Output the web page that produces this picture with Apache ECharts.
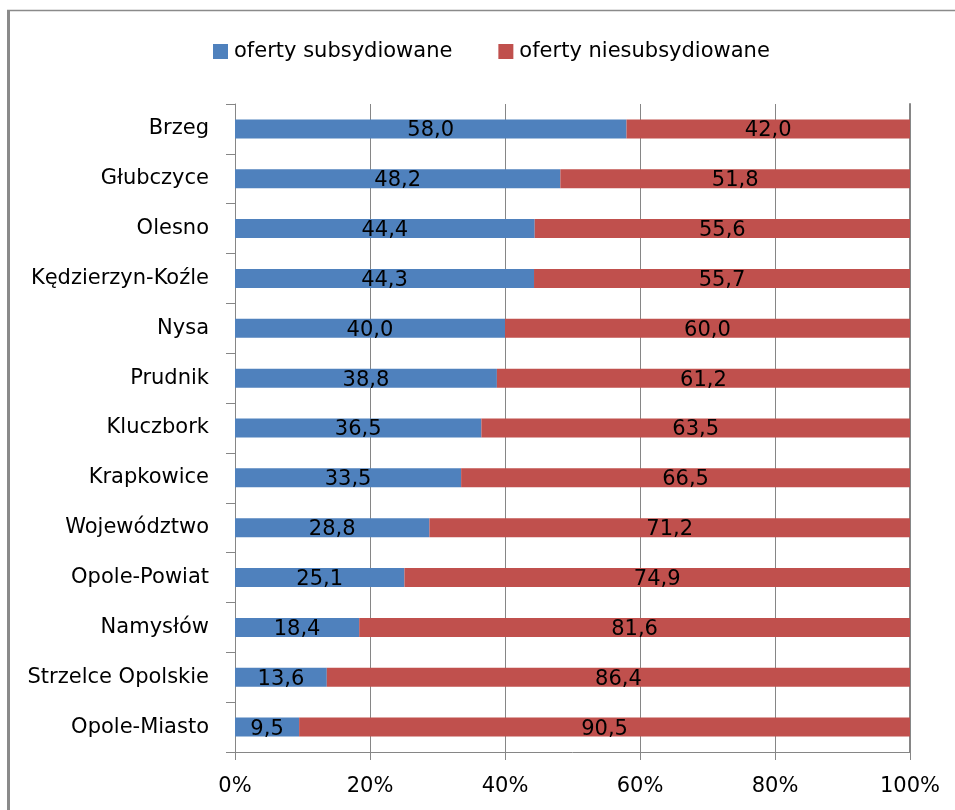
<!DOCTYPE html>
<html>
<head>
<meta charset="utf-8">
<script src="https://cdn.jsdelivr.net/npm/echarts@6/dist/echarts.min.js"></script>
<style>
html,body{margin:0;padding:0;background:#fff;}
#chart{width:955px;height:810px;}
</style>
</head>
<body>
<div id="chart"></div>
<script>
const categories = ["Brzeg","Głubczyce","Olesno","Kędzierzyn-Koźle","Nysa","Prudnik","Kluczbork","Krapkowice","Województwo","Opole-Powiat","Namysłów","Strzelce Opolskie","Opole-Miasto"];
const subsidized = [58.0,48.2,44.4,44.3,40.0,38.8,36.5,33.5,28.8,25.1,18.4,13.6,9.5];
const unsubsidized = [42.0,51.8,55.6,55.7,60.0,61.2,63.5,66.5,71.2,74.9,81.6,86.4,90.5];
const xTicks = [0,20,40,60,80,100];
const seriesNames = ["oferty subsydiowane","oferty niesubsydiowane"];

const FONT = "DejaVu Sans";
const chart = echarts.init(document.getElementById('chart'), null, {renderer:'canvas'});
const fmt = p => p.value.toFixed(1).replace('.', ',');
const lbl = {show:true, position:'inside', formatter:fmt, color:'#000', fontFamily:FONT, fontSize:21, offset:[0,2]};

chart.setOption({
  animation:false,
  backgroundColor:'#fff',
  textStyle:{fontFamily:FONT},
  graphic:[
    {type:'line', shape:{x1:8.5,y1:10,x2:8.5,y2:810}, style:{stroke:'#8a8a8a', lineWidth:3}},
    {type:'line', shape:{x1:7,y1:10.5,x2:955,y2:10.5}, style:{stroke:'#8a8a8a', lineWidth:1.5}}
  ],
  legend:{
    left:208, top:36,
    itemWidth:15, itemHeight:15, itemGap:46,
    icon:'rect',
    textStyle:{fontFamily:FONT, fontSize:21, color:'#000', padding:[0,0,0,1]},
    data:seriesNames
  },
  grid:{left:235, right:45, top:104, bottom:58, containLabel:false},
  xAxis:{
    type:'value', min:xTicks[0], max:xTicks[xTicks.length-1], interval:20,
    axisLine:{show:true, lineStyle:{color:'#868686', width:1}},
    axisTick:{show:true, length:8, lineStyle:{color:'#868686'}},
    splitLine:{show:true, lineStyle:{color:'#868686', width:1}},
    axisLabel:{formatter: v => v + '%', color:'#000', fontFamily:FONT, fontSize:21, margin:24}
  },
  yAxis:[{
    type:'category', data:categories, inverse:true,
    axisLine:{show:true, lineStyle:{color:'#868686', width:1}},
    axisTick:{show:true, length:9, lineStyle:{color:'#868686'}},
    axisLabel:{color:'#000', fontFamily:FONT, fontSize:21, margin:26}
  },{
    type:'category', data:categories, inverse:true, position:'right',
    axisLine:{show:true, lineStyle:{color:'#868686', width:2}},
    axisTick:{show:false}, axisLabel:{show:false}, splitLine:{show:false}
  }],
  series:[
    {name:seriesNames[0], type:'bar', stack:'t', data:subsidized, barWidth:19,
     itemStyle:{color:'#4F81BD'}, label:lbl},
    {name:seriesNames[1], type:'bar', stack:'t', data:unsubsidized, barWidth:19,
     itemStyle:{color:'#C0504D'}, label:lbl}
  ]
});
</script>
</body>
</html>
